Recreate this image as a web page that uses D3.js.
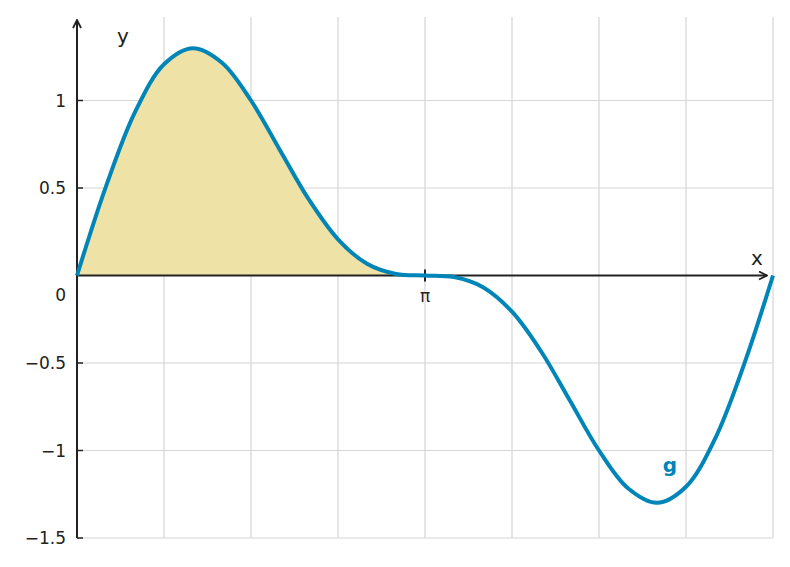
<!DOCTYPE html>
<html><head><meta charset="utf-8">
<script src="https://cdn.jsdelivr.net/npm/d3@7"></script>
<style>body{margin:0;background:#fff}text{font-family:"DejaVu Sans",sans-serif}</style>
</head><body><svg id="c" width="790" height="567"></svg>
<script>
// x in multiples of pi/12, from 0 to 2pi
const xSteps = [0,1,2,3,4,5,6,7,8,9,10,11,12,13,14,15,16,17,18,19,20,21,22,23,24];
const gValues = [0,0.509,0.933,1.207,1.299,1.216,1,0.716,0.433,0.207,0.067,0.009,0,-0.009,-0.067,-0.207,-0.433,-0.716,-1,-1.216,-1.299,-1.207,-0.933,-0.509,0];
const yTicks = [1,0.5,-0.5,-1,-1.5];
const yTickLabels = ["1","0.5","−0.5","−1","−1.5"];
const xGrid = [1,2,3,4,5,6,7,8]; // multiples of pi/4

const svg=d3.select("#c");
const x=d3.scaleLinear().domain([0,2*Math.PI]).range([77,773]);
const y=d3.scaleLinear().domain([-1.5,1.5]).range([538,13]);
const pts=xSteps.map((k,i)=>[k*Math.PI/12,gValues[i]]);

// grid
svg.selectAll(".vg").data(xGrid).enter().append("line")
 .attr("x1",d=>x(d*Math.PI/4)).attr("x2",d=>x(d*Math.PI/4)).attr("y1",17).attr("y2",538)
 .attr("stroke","#d6d6d6").attr("stroke-width",1.2);
svg.selectAll(".hg").data(yTicks).enter().append("line")
 .attr("x1",77).attr("x2",773).attr("y1",d=>y(d)).attr("y2",d=>y(d))
 .attr("stroke","#d6d6d6").attr("stroke-width",1.2);

// area
const fillPts=pts.filter(p=>p[0]<=Math.PI+1e-9);
svg.append("path").datum(fillPts)
 .attr("d",d3.area().x(d=>x(d[0])).y0(y(0)).y1(d=>y(d[1])).curve(d3.curveCatmullRom))
 .attr("fill","#eee2a6");

// axes
svg.append("defs").append("marker").attr("id","ar").attr("viewBox","0 0 10 10").attr("refX",9).attr("refY",5)
 .attr("markerWidth",10).attr("markerHeight",10).attr("markerUnits","userSpaceOnUse").attr("orient","auto")
 .append("path").attr("d","M1,1 L9,5 L1,9").attr("fill","none").attr("stroke","#222").attr("stroke-width",1.8);
svg.append("line").attr("x1",77).attr("x2",767).attr("y1",y(0)).attr("y2",y(0)).attr("stroke","#222").attr("stroke-width",2).attr("marker-end","url(#ar)");
svg.append("line").attr("x1",77).attr("x2",77).attr("y1",538).attr("y2",20).attr("stroke","#222").attr("stroke-width",2).attr("marker-end","url(#ar)");

// y ticks
svg.selectAll(".yt").data(yTicks).enter().append("line")
 .attr("x1",77).attr("x2",83).attr("y1",d=>y(d)).attr("y2",d=>y(d)).attr("stroke","#222").attr("stroke-width",1.5);
svg.selectAll(".yl").data(yTicks).enter().append("text")
 .attr("x",66).attr("y",d=>y(d)+6).attr("text-anchor","end").attr("font-size",17).attr("fill","#222")
 .text((d,i)=>yTickLabels[i]);
svg.append("text").attr("x",66).attr("y",y(0)+25).attr("text-anchor","end").attr("font-size",17).attr("fill","#222").text("0");
// pi tick
svg.append("line").attr("x1",x(Math.PI)).attr("x2",x(Math.PI)).attr("y1",y(0)-6).attr("y2",y(0)+6).attr("stroke","#222").attr("stroke-width",2);
svg.append("text").attr("x",x(Math.PI)).attr("y",y(0)+26).attr("text-anchor","middle").attr("font-size",17).attr("fill","#222").text("π");
svg.append("text").attr("x",123).attr("y",43).attr("text-anchor","middle").attr("font-size",20).attr("fill","#222").text("y");
svg.append("text").attr("x",757).attr("y",265).attr("text-anchor","middle").attr("font-size",20).attr("fill","#222").text("x");

// curve
svg.append("path").datum(pts)
 .attr("d",d3.line().x(d=>x(d[0])).y(d=>y(d[1])).curve(d3.curveCatmullRom))
 .attr("fill","none").attr("stroke","#0085b8").attr("stroke-width",4);
svg.append("text").attr("x",670).attr("y",472).attr("text-anchor","middle").attr("font-size",20).attr("font-weight","bold").attr("fill","#0085b8").text("g");
</script></body></html>
